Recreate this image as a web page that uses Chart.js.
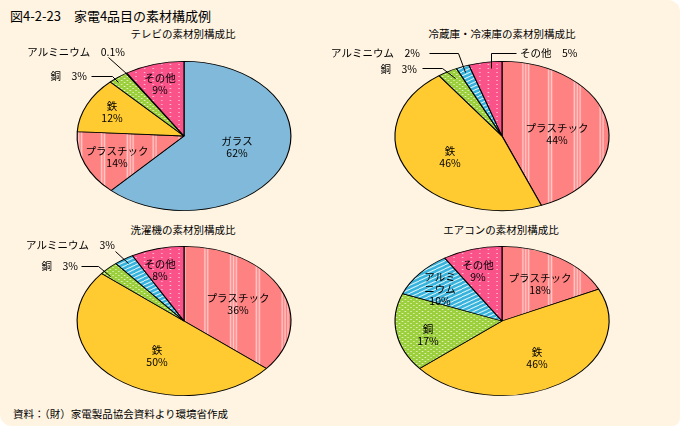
<!DOCTYPE html>
<html>
<head>
<meta charset="utf-8">
<script src="https://cdn.jsdelivr.net/npm/chart.js@4"></script>
<style>
body { margin: 0; background: #fff; }
#panel { position: relative; width: 680px; height: 426px; background: #fff3e1; border-radius: 0 12px 8px 12px; overflow: hidden; font-family: "Noto Sans CJK JP", sans-serif; color: #000; }
canvas { position: absolute; }
.t { position: absolute; white-space: nowrap; font-size: 10.5px; line-height: 1; }
.c { transform: translateX(-50%); }
</style>
</head>
<body>
<div id="panel">
  <div class="t" style="left:10px;top:9px;font-size:13px">図4-2-23　家電4品目の素材構成例</div>
  <div class="t c" style="left:183px;top:29px">テレビの素材別構成比</div>
  <div class="t c" style="left:502px;top:29px">冷蔵庫・冷凍庫の素材別構成比</div>
  <div class="t c" style="left:183px;top:225px">洗濯機の素材別構成比</div>
  <div class="t c" style="left:501px;top:225px">エアコンの素材別構成比</div>
  <div class="t" style="left:13px;top:409px">資料：（財）家電製品協会資料より環境省作成</div>
  <canvas id="tv" width="340" height="180" style="left:0;top:40px"></canvas>
  <canvas id="fridge" width="380" height="180" style="left:300px;top:40px"></canvas>
  <canvas id="washer" width="340" height="180" style="left:0;top:225px"></canvas>
  <canvas id="aircon" width="380" height="180" style="left:300px;top:225px"></canvas>
</div>
<script>
// data (percent)
const tvCategories = ['ガラス', 'プラスチック', '鉄', '銅', 'アルミニウム', 'その他'];
const tvValues = [62, 14, 12, 3, 0.1, 9];
const fridgeCategories = ['プラスチック', '鉄', '銅', 'アルミニウム', 'その他'];
const fridgeValues = [44, 46, 3, 2, 5];
const washerCategories = ['プラスチック', '鉄', '銅', 'アルミニウム', 'その他'];
const washerValues = [36, 50, 3, 3, 8];
const airconCategories = ['プラスチック', '鉄', '銅', 'アルミニウム', 'その他'];
const airconValues = [18, 46, 17, 10, 9];

const SX = 107.5 / 75; // pies are drawn as flattened ellipses

function tile(w, h, base, paint) {
    const c = document.createElement('canvas');
    c.width = w; c.height = h;
    const g = c.getContext('2d');
    g.fillStyle = base;
    g.fillRect(0, 0, w, h);
    paint(g);
    return g.createPattern(c, 'repeat');
}

const fills = {
    'ガラス': '#80b9d9',
    '鉄': '#ffcb31',
    'プラスチック': tile(36, 4, '#ff8282', g => {
        g.fillStyle = '#ffc8c8';
        [0, 2, 4, 18, 20].forEach(x => g.fillRect(x, 0, 1, 4));
    }),
    '銅': tile(4, 4, '#9ccf3c', g => {
        g.fillStyle = '#e6f5c8';
        g.fillRect(0, 0, 1, 1);
        g.fillRect(2, 2, 1, 1);
    }),
    'アルミニウム': tile(6, 4, '#36b3dc', g => {
        g.strokeStyle = '#ffffff';
        g.lineWidth = 1;
        g.beginPath();
        g.moveTo(-1, 4.6); g.lineTo(7, -0.6);
        g.stroke();
    }),
    'その他': tile(6, 4, '#f9538a', g => {
        g.fillStyle = '#ffc6da';
        g.fillRect(0, 0, 1, 1);
    })
};

const ellipse = {
    id: 'ellipse',
    beforeDatasetsDraw(chart) {
        const a = chart.getDatasetMeta(0).data[0];
        const ctx = chart.ctx;
        ctx.save();
        ctx.translate(a.x, a.y);
        ctx.scale(SX, 1);
        ctx.translate(-a.x, -a.y);
    },
    afterDatasetsDraw(chart) {
        chart.ctx.restore();
    }
};

// label layout: offsets from pie centre; leader points too
function sliceLabels(layout) {
    return {
        id: 'sliceLabels',
        afterDraw(chart) {
            const ctx = chart.ctx;
            const a = chart.getDatasetMeta(0).data[0];
            const cats = chart.data.labels;
            const vals = chart.data.datasets[0].data;
            ctx.save();
            ctx.fillStyle = '#000';
            ctx.strokeStyle = '#000';
            ctx.lineWidth = 1;
            ctx.font = '10.5px "Noto Sans CJK JP"';
            ctx.textBaseline = 'middle';
            layout.forEach(l => {
                const cat = cats[l.i], v = vals[l.i] + '%';
                let lines;
                if (l.outside) lines = [cat + '　' + v];
                else if (l.split) lines = [cat.slice(0, l.split), cat.slice(l.split), v];
                else lines = [cat, v];
                ctx.textAlign = l.align || 'center';
                const x = a.x + l.dx;
                const y0 = a.y + l.dy - (lines.length - 1) * 6;
                lines.forEach((s, k) => ctx.fillText(s, x, y0 + k * 12));
                if (l.leader) {
                    ctx.beginPath();
                    l.leader.forEach((p, k) => {
                        const px = Math.round(a.x + p[0]) + 0.5, py = Math.round(a.y + p[1]) + 0.5;
                        if (k) ctx.lineTo(px, py); else ctx.moveTo(px, py);
                    });
                    ctx.stroke();
                }
            });
            ctx.restore();
        }
    };
}

function makePie(id, categories, values, cx, width, layout) {
    new Chart(document.getElementById(id), {
        type: 'pie',
        data: {
            labels: categories,
            datasets: [{
                data: values,
                backgroundColor: categories.map(c => fills[c]),
                borderColor: '#000',
                borderWidth: 0.8
            }]
        },
        options: {
            responsive: false,
            animation: false,
            events: [],
            layout: { padding: { left: cx - 75, right: width - cx - 75, top: 21, bottom: 9 } },
            plugins: { legend: { display: false }, tooltip: { enabled: false } }
        },
        plugins: [ellipse, sliceLabels(layout)]
    });
}

makePie('tv', tvCategories, tvValues, 184, 340, [
    { i: 0, dx: 53, dy: 11 },
    { i: 1, dx: -67, dy: 21 },
    { i: 2, dx: -72, dy: -24 },
    { i: 5, dx: -24, dy: -52 },
    { i: 3, outside: true, align: 'right', dx: -97, dy: -60, leader: [[-93, -60], [-72, -60], [-66, -54]] },
    { i: 4, outside: true, align: 'right', dx: -59, dy: -84, leader: [[-76, -79], [-57, -62]] }
]);

makePie('fridge', fridgeCategories, fridgeValues, 202, 380, [
    { i: 0, dx: 55, dy: -2 },
    { i: 1, dx: -52, dy: 21 },
    { i: 4, outside: true, align: 'left', dx: 18, dy: -83, leader: [[14, -83], [-11, -83], [-11, -68]] },
    { i: 3, outside: true, align: 'right', dx: -82, dy: -83, leader: [[-73, -83], [-44, -83], [-37, -64]] },
    { i: 2, outside: true, align: 'right', dx: -85, dy: -67, leader: [[-80, -68], [-60, -68], [-47, -58]] }
]);

makePie('washer', washerCategories, washerValues, 184, 340, [
    { i: 0, dx: 54, dy: -17 },
    { i: 1, dx: -27, dy: 35 },
    { i: 4, dx: -24, dy: -51 },
    { i: 3, outside: true, align: 'right', dx: -69, dy: -76, leader: [[-69, -70], [-56, -58]] },
    { i: 2, outside: true, align: 'right', dx: -106, dy: -55, leader: [[-103, -55], [-86, -55], [-74, -45]] }
]);

makePie('aircon', airconCategories, airconValues, 202, 380, [
    { i: 0, dx: 38, dy: -37 },
    { i: 1, dx: 35, dy: 37 },
    { i: 2, dx: -74, dy: 14 },
    { i: 3, split: 3, dx: -62, dy: -32 },
    { i: 4, dx: -24, dy: -50 }
]);
</script>
</body>
</html>
